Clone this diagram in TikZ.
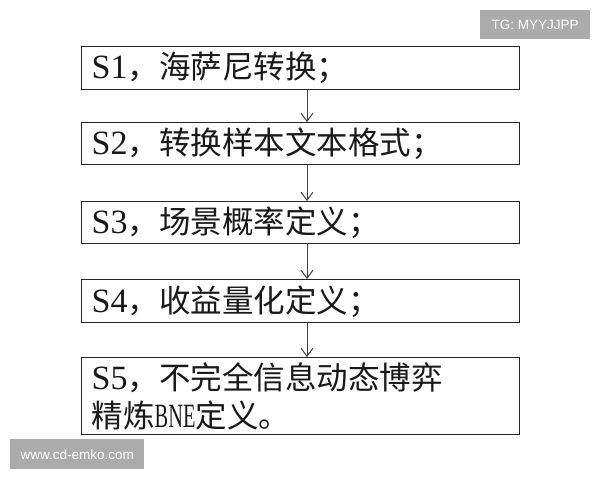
\documentclass[tikz,border=0pt]{standalone}
\usepackage{fontspec}
\usepackage{graphicx}
\setmainfont{Liberation Serif}
\newfontfamily\cjk{Noto Sans CJK SC}
\newfontfamily\wmfont{Liberation Sans}
\newcommand{\lab}[1]{{\fontsize{34}{37}\selectfont #1}}
\usetikzlibrary{arrows.meta}
\tikzset{
  stepbox/.style={draw=black!85, line width=1.4pt, rectangle, anchor=north west,
    minimum width=438pt, inner xsep=10pt, inner ysep=0pt, text width=418pt, align=left,
    font=\fontsize{31.5}{37.5}\selectfont, text=black!90},
  arr/.style={draw=black!75, line width=1pt, -{Straight Barb[length=8pt,width=12pt]}},
  wm/.style={fill=black!33, text=white, inner sep=0pt, anchor=north west,
    font=\wmfont\fontsize{13.5}{15}\selectfont}
}
\begin{document}
\begin{tikzpicture}[x=1pt,y=-1pt]
\useasboundingbox (0,0) rectangle (600,480);
\fill[white] (0,0) rectangle (600,480);
\node[stepbox, minimum height=43pt] (b1) at (81,46) {\lab{S1}{\cjk ，海萨尼转换；}};
\node[stepbox, minimum height=42pt] (b2) at (81,122) {\lab{S2}{\cjk ，转换样本文本格式；}};
\node[stepbox, minimum height=42pt] (b3) at (81,201) {\lab{S3}{\cjk ，场景概率定义；}};
\node[stepbox, minimum height=43pt] (b4) at (81,279) {\lab{S4}{\cjk ，收益量化定义；}};
\node[stepbox, minimum height=77pt] (b5) at (81,357) {\lab{S5}{\cjk ，不完全信息动态博弈}\\{\cjk 精炼}\scalebox{0.6}[1]{\lab{BNE}}{\cjk 定义。}};
\coordinate (ax) at (307,0);
\draw[arr] (b1.south -| ax) -- (b2.north -| ax);
\draw[arr] (b2.south -| ax) -- (b3.north -| ax);
\draw[arr] (b3.south -| ax) -- (b4.north -| ax);
\draw[arr] (b4.south -| ax) -- (b5.north -| ax);
\node[wm, minimum width=110pt, minimum height=29pt] (w1) at (480,10) {TG: MYYJJPP};
\node[wm, minimum width=134pt, minimum height=30pt] (w2) at (10,439) {www.cd-emko.com};
\end{tikzpicture}
\end{document}
